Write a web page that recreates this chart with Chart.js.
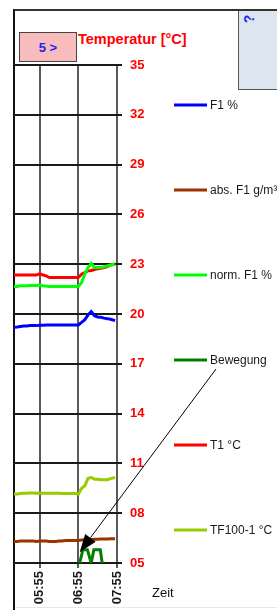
<!DOCTYPE html>
<html><head><meta charset="utf-8">
<script src="https://cdn.jsdelivr.net/npm/chart.js@4/dist/chart.umd.min.js"></script>
<style>
html,body{margin:0;padding:0;background:#fff;width:277px;height:610px;overflow:hidden;font-family:"Liberation Sans",Arial,sans-serif;}
#wrap{position:relative;width:277px;height:610px;}
#frame{position:absolute;left:13px;top:9px;width:280px;height:620px;border-left:2px solid #111;border-top:2px solid #333;box-sizing:border-box;}
#panel{position:absolute;left:238px;top:11px;width:45px;height:78px;background:#dce6f1;border-left:1px solid #555;border-bottom:1px solid #555;}
#q{position:absolute;left:242px;top:12px;width:12px;height:14px;line-height:14px;text-align:center;color:#2626e8;font:bold 14px "Liberation Sans",Arial,sans-serif;transform:rotate(-90deg);transform-origin:50% 50%;}
#btn{position:absolute;left:19px;top:32px;width:56px;height:28px;background:#f9bcbc;border:1px solid #444;color:#2222ee;font:bold 13px "Liberation Sans",Arial,sans-serif;text-align:center;line-height:29px;}
#title{position:absolute;left:78px;top:31px;color:#ff0000;font:bold 14.5px "Liberation Sans",Arial,sans-serif;white-space:nowrap;}
#bot{position:absolute;left:15px;top:607px;width:262px;height:1px;background:#e3e9e3;}
canvas{position:absolute;left:0;top:0;}
</style></head>
<body><div id="wrap">
<div id="frame"></div>
<div id="panel"></div>
<div id="q">?</div>
<div id="btn">5 &gt;</div>
<div id="title">Temperatur [°C]</div>
<div id="bot"></div>
<canvas id="c" width="277" height="610"></canvas>
</div>
<script>
// ---- data ----
const times = ["05:15","05:20","05:25","05:30","05:35","05:40","05:45","05:50","05:55","06:00","06:05","06:10","06:15","06:20","06:25","06:30","06:35","06:40","06:45","06:50","06:55","07:00","07:05","07:10","07:15","07:20","07:25","07:30","07:35","07:40","07:45","07:52"];
const f1 = [19.2,19.22,19.25,19.27,19.28,19.3,19.3,19.3,19.32,19.32,19.33,19.33,19.33,19.33,19.33,19.33,19.34,19.34,19.34,19.34,19.34,19.5,19.65,19.95,20.15,19.9,19.82,19.8,19.75,19.72,19.68,19.6];
const absF1 = [6.3,6.3,6.32,6.33,6.33,6.33,6.32,6.3,6.33,6.33,6.32,6.3,6.3,6.3,6.32,6.33,6.35,6.35,6.35,6.36,6.36,6.38,6.4,6.4,6.42,6.43,6.43,6.44,6.45,6.45,6.46,6.46];
const normF1 = [21.65,21.65,21.7,21.7,21.7,21.72,21.72,21.72,21.75,21.7,21.68,21.65,21.65,21.65,21.65,21.65,21.65,21.65,21.65,21.65,21.65,21.9,22.4,22.8,23.05,22.8,22.8,22.8,22.85,22.9,22.95,23.0];
const t1 = [22.35,22.35,22.35,22.35,22.35,22.35,22.35,22.35,22.42,22.35,22.3,22.2,22.2,22.2,22.2,22.2,22.2,22.2,22.2,22.2,22.2,22.4,22.5,22.6,22.62,22.68,22.72,22.75,22.8,22.85,22.95,23.02];
const tf100 = [9.15,9.15,9.18,9.2,9.2,9.22,9.22,9.2,9.22,9.2,9.2,9.2,9.2,9.2,9.2,9.18,9.18,9.18,9.18,9.18,9.15,9.5,9.65,10.1,10.15,10.05,10.05,10.02,10.02,10.02,10.08,10.15];
const bewTimes = ["06:57","07:02","07:09","07:15","07:19","07:29","07:32"];
const bewegung = [5.0,5.8,5.8,5.0,5.8,5.8,5.0];
const xTickLabels = ["05:55","06:55","07:55"];
const xRange = ["05:15","07:55"];
const yMin = 5, yMax = 35, yStep = 3;
const seriesNames = ["F1 %","abs. F1 g/m³","norm. F1 %","Bewegung","T1 °C","TF100-1 °C"];
const seriesColors = ["#0000ff","#993300","#00ff00","#008000","#ff0000","#99cc00"];
const arrowTip = {time:"06:57", value:5.65};

// ---- helpers ----
const toMin = s => { const [h,m] = s.split(":").map(Number); return h*60+m; };
const fmt = v => { const h = Math.floor(v/60), m = v%60; return String(h).padStart(2,"0")+":"+String(m).padStart(2,"0"); };
const pts = (ts, vs) => ts.map((t,i)=>({x:toMin(t), y:vs[i]}));
const seriesData = [pts(times,f1), pts(times,absF1), pts(times,normF1), pts(bewTimes,bewegung), pts(times,t1), pts(times,tf100)];

Chart.defaults.font.family = "'Liberation Sans', Arial, sans-serif";

const legendPlugin = {
  id:"sideLegend",
  afterDraw(chart){
    const ctx = chart.ctx, ca = chart.chartArea;
    const x0 = ca.right + 57, x1 = ca.right + 90, tx = ca.right + 93;
    ctx.save();
    ctx.font = "12px 'Liberation Sans', Arial, sans-serif";
    ctx.textBaseline = "middle";
    ctx.textAlign = "left";
    const pos = [];
    chart.data.datasets.forEach((ds,i)=>{
      const y = 105 + i*85;
      ctx.strokeStyle = ds.borderColor; ctx.lineWidth = 3;
      ctx.beginPath(); ctx.moveTo(x0,y); ctx.lineTo(x1,y); ctx.stroke();
      ctx.fillStyle = "#1a1a1a";
      ctx.fillText(ds.label, tx, y+1);
      pos.push({x:tx, y:y});
    });
    // axis title
    ctx.font = "13px 'Liberation Sans', Arial, sans-serif";
    ctx.fillStyle = "#111";
    ctx.fillText("Zeit", ca.right + 35, 593);
    // arrow from Bewegung legend entry to data
    const p = pos[3];
    const sx = p.x + 6, sy = p.y + 9;
    const ex = chart.scales.x.getPixelForValue(toMin(arrowTip.time));
    const ey = chart.scales.y.getPixelForValue(arrowTip.value);
    const ang = Math.atan2(ey-sy, ex-sx);
    const L = 18, W = 6.5;
    const bx = ex - L*Math.cos(ang), by = ey - L*Math.sin(ang);
    ctx.strokeStyle = "#000"; ctx.lineWidth = 1;
    ctx.beginPath(); ctx.moveTo(sx,sy); ctx.lineTo(bx,by); ctx.stroke();
    ctx.fillStyle = "#000";
    ctx.beginPath();
    ctx.moveTo(ex,ey);
    ctx.lineTo(bx + W*Math.sin(ang), by - W*Math.cos(ang));
    ctx.lineTo(bx - W*Math.sin(ang), by + W*Math.cos(ang));
    ctx.closePath(); ctx.fill();
    ctx.restore();
  }
};

new Chart(document.getElementById("c"), {
  type:"line",
  data:{ datasets: seriesData.map((d,i)=>({
    label: seriesNames[i], data: d, borderColor: seriesColors[i], backgroundColor: seriesColors[i],
    borderWidth: 3, pointRadius: 0, tension: 0, fill:false
  }))},
  options:{
    responsive:false, animation:false, events:[],
    layout:{padding:{left:14, top:65, right:120, bottom:0}},
    plugins:{legend:{display:false}, tooltip:{enabled:false}, title:{display:false}},
    scales:{
      x:{type:"linear", min:toMin(xRange[0]), max:toMin(xRange[1]),
        afterBuildTicks(ax){ ax.ticks = xTickLabels.map(s=>({value:toMin(s)})); },
        afterFit(ax){ ax.height = 47; },
        border:{display:false},
        grid:{color:"#5a5a5a", lineWidth:2, tickLength:5},
        ticks:{autoSkip:false, minRotation:90, maxRotation:90, padding:3, color:"#1a1a1a",
          font:{size:13, weight:"bold"}, callback:v=>fmt(v)}
      },
      y:{position:"right", min:yMin, max:yMax,
        afterFit(ax){ ax.width = 40; },
        border:{display:false},
        grid:{color:"#1a1a1a", lineWidth:2, tickLength:5},
        ticks:{stepSize:yStep, padding:8, color:"#ff0000", font:{size:13, weight:"bold"},
          callback:v=> v<10 ? "0"+v : String(v)}
      }
    }
  },
  plugins:[legendPlugin]
});
</script>
</body></html>
